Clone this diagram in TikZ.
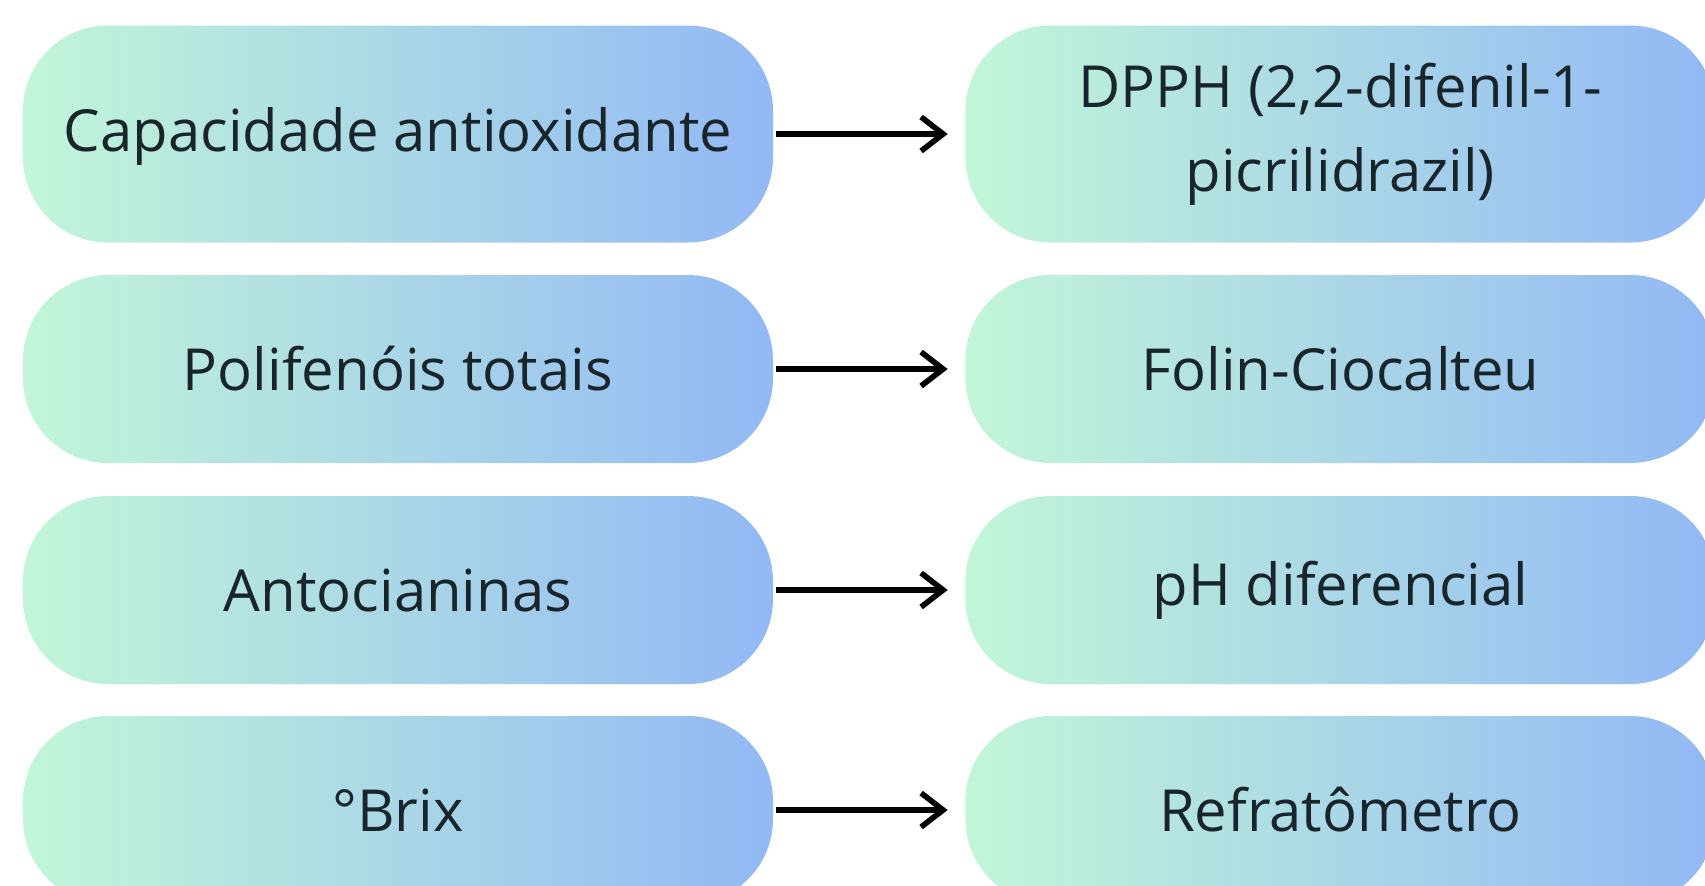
\documentclass[tikz,border=0pt]{standalone}
\usepackage{fontspec}
\setmainfont{Open Sans}
\usetikzlibrary{positioning,arrows.meta}

\definecolor{mint}{RGB}{194,246,216}
\definecolor{skyblue}{RGB}{146,184,245}
\definecolor{inkdark}{RGB}{24,38,44}

\begin{document}
\begin{tikzpicture}[>={Straight Barb[length=2.2mm,width=3.4mm,line width=1.6pt]},
    pill/.style={rectangle,rounded corners=0.85cm,minimum width=7.5cm,minimum height=1.88cm,
        left color=mint,right color=skyblue,draw=none,text=inkdark,align=center,
        font=\fontsize{16.5pt}{24pt}\selectfont},
    link/.style={->,line width=1.6pt,shorten >=0.17cm,shorten <=0.02cm},
    node distance=1.91cm]
    \clip (0,0) rectangle (17.05,-8.85);
    \useasboundingbox (0,0) rectangle (17.05,-8.85);

    \node[pill,minimum height=2.17cm,text depth=0.5ex] (cap)  at (3.98,-1.34) {Capacidade antioxidante};
    \node[pill,minimum height=2.17cm] (dpph) [right=of cap]    {DPPH (2,2-difenil-1-\\picrilidrazil)};
    \node[pill] (poli) at (3.98,-3.69)  {Polifen\'ois totais};
    \node[pill] (folin) [right=of poli] {Folin-Ciocalteu};
    \node[pill] (anto) at (3.98,-5.9) {Antocianinas};
    \node[pill] (ph)    [right=of anto] {pH diferencial};
    \node[pill] (brix) at (3.98,-8.1)   {°Brix};
    \node[pill] (refr)  [right=of brix] {Refrat\^ometro};

    \path[link] (cap)  edge (dpph)
                (poli) edge (folin)
                (anto) edge (ph)
                (brix) edge (refr);
\end{tikzpicture}
\end{document}
